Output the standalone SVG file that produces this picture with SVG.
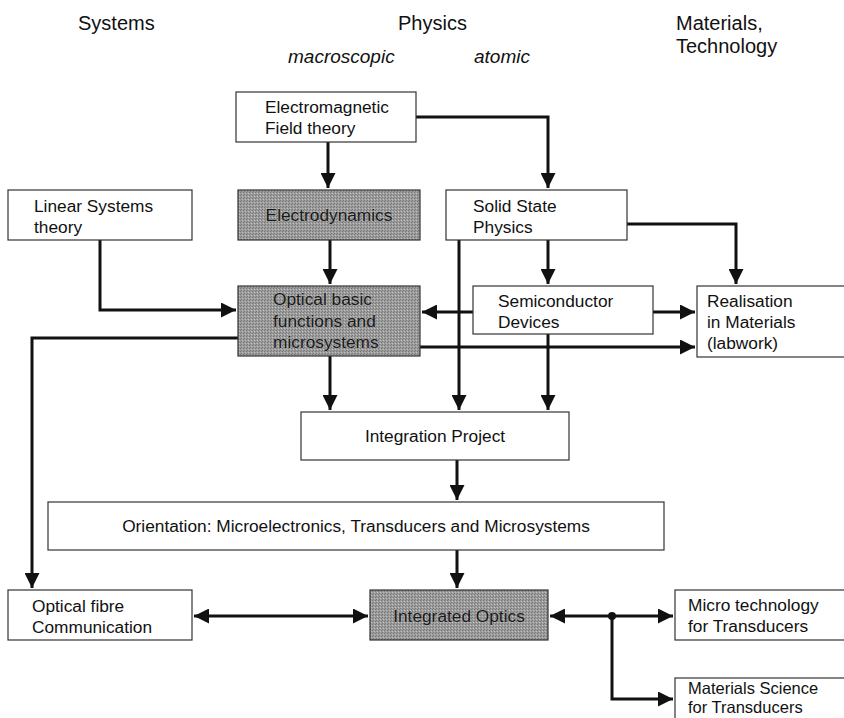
<svg xmlns="http://www.w3.org/2000/svg" width="844" height="718" viewBox="0 0 844 718">
<style>
.bg{fill:#fff}
.box{fill:#fff;stroke:#333;stroke-width:1.2}
.gbox{fill:url(#dither);stroke:#333;stroke-width:1.2}
text{font-family:"Liberation Sans",Arial,sans-serif;font-size:17.3px;fill:#111}
.hdr{font-size:20px}
.it{font-size:19px;font-style:italic}
.sm{font-size:16.5px}
.gt{fill:#1a1a1a;stroke:#bbb;stroke-width:0.4;paint-order:stroke}
.c{fill:none;stroke:#111;stroke-width:3}
</style>
<defs>
<pattern id="dither" width="3" height="3" patternUnits="userSpaceOnUse">
<rect width="3" height="3" fill="#9c9c9c"/>
<rect x="0" y="0" width="1" height="1" fill="#767676"/>
<rect x="2" y="1" width="1" height="1" fill="#c0c0c0"/>
<rect x="1" y="2" width="1" height="1" fill="#7c7c7c"/>
</pattern>
<marker id="ah" viewBox="0 0 10 10" refX="10" refY="5" markerWidth="5.2" markerHeight="5" orient="auto-start-reverse" markerUnits="strokeWidth">
<path d="M0,0 L10,5 L0,10 z" fill="#111"/>
</marker>
</defs>
<rect class="bg" width="844" height="718"/>

<g id="headers">
<text class="hdr" x="78" y="30">Systems</text>
<text class="hdr" x="398" y="30">Physics</text>
<text class="hdr" x="676" y="30">Materials,</text>
<text class="hdr" x="676" y="53">Technology</text>
<text class="it" x="288" y="63">macroscopic</text>
<text class="it" x="474" y="63">atomic</text>
</g>

<g id="connectors">
<polyline class="c" points="416,117 548,117 548,188" marker-end="url(#ah)"/>
<line class="c" x1="328" y1="142" x2="328" y2="188" marker-end="url(#ah)"/>
<polyline class="c" points="100,240 100,310 236,310" marker-end="url(#ah)"/>
<line class="c" x1="330" y1="240" x2="330" y2="284" marker-end="url(#ah)"/>
<line class="c" x1="548" y1="240" x2="548" y2="284" marker-end="url(#ah)"/>
<polyline class="c" points="627,224 736,224 736,284" marker-end="url(#ah)"/>
<line class="c" x1="473" y1="312" x2="422" y2="312" marker-end="url(#ah)"/>
<line class="c" x1="653" y1="312" x2="695" y2="312" marker-end="url(#ah)"/>
<line class="c" x1="420" y1="347" x2="695" y2="347" marker-end="url(#ah)"/>
<polyline class="c" points="238,338 32,338 32,588" marker-end="url(#ah)"/>
<line class="c" x1="459" y1="240" x2="459" y2="410" marker-end="url(#ah)"/>
<line class="c" x1="330" y1="356" x2="330" y2="410" marker-end="url(#ah)"/>
<line class="c" x1="548" y1="334" x2="548" y2="410" marker-end="url(#ah)"/>
<line class="c" x1="457" y1="460" x2="457" y2="500" marker-end="url(#ah)"/>
<line class="c" x1="457" y1="550" x2="457" y2="588" marker-end="url(#ah)"/>
<line class="c" x1="194" y1="616" x2="368" y2="616" marker-start="url(#ah)" marker-end="url(#ah)"/>
<line class="c" x1="550" y1="616" x2="673" y2="616" marker-start="url(#ah)" marker-end="url(#ah)"/>
<polyline class="c" points="612,616 612,699 673,699" marker-end="url(#ah)"/>
<circle cx="612" cy="616" r="4" fill="#111"/>
</g>

<g id="em">
<rect class="box" x="236" y="92" width="180" height="50"/>
<text x="265" y="113">Electromagnetic</text>
<text x="265" y="134">Field theory</text>
</g>
<g id="linear">
<rect class="box" x="8" y="190" width="184" height="50"/>
<text x="34" y="212">Linear Systems</text>
<text x="34" y="233">theory</text>
</g>
<g id="electrodynamics">
<rect class="gbox" x="238" y="190" width="182" height="50"/>
<text class="gt" x="329" y="221" text-anchor="middle">Electrodynamics</text>
</g>
<g id="solidstate">
<rect class="box" x="446" y="190" width="181" height="50"/>
<text x="473" y="212">Solid State</text>
<text x="473" y="233">Physics</text>
</g>
<g id="optical">
<rect class="gbox" x="238" y="286" width="182" height="70"/>
<text class="gt" x="273" y="305">Optical basic</text>
<text class="gt" x="273" y="327">functions and</text>
<text class="gt" x="273" y="348">microsystems</text>
</g>
<g id="semiconductor">
<rect class="box" x="473" y="286" width="180" height="48"/>
<text x="498" y="307">Semiconductor</text>
<text x="498" y="328">Devices</text>
</g>
<g id="realisation">
<rect class="box" x="697" y="286" width="150" height="71"/>
<text x="707" y="307">Realisation</text>
<text x="707" y="328">in Materials</text>
<text x="707" y="349">(labwork)</text>
</g>
<g id="integration">
<rect class="box" x="301" y="412" width="268" height="48"/>
<text x="435" y="442" text-anchor="middle">Integration Project</text>
</g>
<g id="orientation">
<rect class="box" x="48" y="502" width="616" height="48"/>
<text x="356" y="532" text-anchor="middle">Orientation: Microelectronics, Transducers and Microsystems</text>
</g>
<g id="fibre">
<rect class="box" x="8" y="590" width="184" height="50"/>
<text x="32" y="612">Optical fibre</text>
<text x="32" y="633">Communication</text>
</g>
<g id="integrated">
<rect class="gbox" x="370" y="590" width="178" height="50"/>
<text class="gt" x="459" y="622" text-anchor="middle">Integrated Optics</text>
</g>
<g id="microtech">
<rect class="box" x="675" y="590" width="172" height="50"/>
<text x="688" y="611">Micro technology</text>
<text x="688" y="632">for Transducers</text>
</g>
<g id="matsci">
<rect class="box" x="675" y="678" width="172" height="44"/>
<text class="sm" x="688" y="694">Materials Science</text>
<text class="sm" x="688" y="713">for Transducers</text>
</g>
</svg>
